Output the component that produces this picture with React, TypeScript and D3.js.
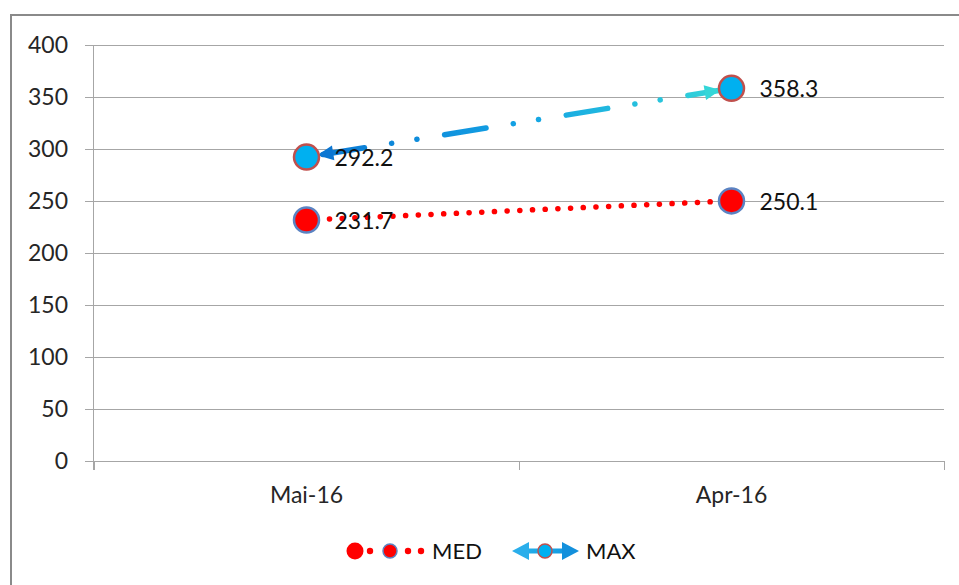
import React from "react";
import * as d3 from "d3";

const categories = ["Mai-16", "Apr-16"];
const medValues = [231.7, 250.1];
const maxValues = [292.2, 358.3];
const yTicks = [0, 50, 100, 150, 200, 250, 300, 350, 400];

const W = 959;
const H = 585;
const FONT = "Lato, 'Open Sans', sans-serif";

const x = d3.scaleBand<string>().domain(categories).range([94, 944]);
const y = d3.scaleLinear().domain([0, 400]).range([461, 45]);
const cx = (c: string) => (x(c) as number) + x.bandwidth() / 2;

function arrowHead(tip: [number, number], dir: [number, number], len: number, half: number) {
  const [ux, uy] = dir;
  const bx = tip[0] - ux * len;
  const by = tip[1] - uy * len;
  const px = -uy;
  const py = ux;
  return `M${tip[0]},${tip[1]}L${bx + px * half},${by + py * half}L${bx - px * half},${by - py * half}Z`;
}

export default function App() {
  const medPts: [number, number][] = categories.map((c, i) => [cx(c), y(medValues[i])]);
  const maxPts: [number, number][] = categories.map((c, i) => [cx(c), y(maxValues[i])]);
  const line = d3.line();

  // direction of the MAX segment
  const [a, b] = maxPts;
  const len = Math.hypot(b[0] - a[0], b[1] - a[1]);
  const u: [number, number] = [(b[0] - a[0]) / len, (b[1] - a[1]) / len];
  const tipL: [number, number] = [a[0] + u[0] * 11, a[1] + u[1] * 11];
  const tipR: [number, number] = [b[0] - u[0] * 11, b[1] - u[1] * 11];

  const legY = 551;

  return (
    <svg
      width={W}
      height={H}
      style={{ position: "fixed", left: 0, top: 0, background: "#fff" }}
      fontFamily={FONT}
    >
      <defs>
        <linearGradient id="maxGrad" gradientUnits="userSpaceOnUse" x1={a[0]} y1={a[1]} x2={b[0]} y2={b[1]}>
          <stop offset="0" stopColor="#0B76D2" />
          <stop offset="0.5" stopColor="#13A2E4" />
          <stop offset="1" stopColor="#34D6D8" />
        </linearGradient>
        <linearGradient id="legGrad" gradientUnits="userSpaceOnUse" x1={512} x2={579} y1={0} y2={0}>
          <stop offset="0" stopColor="#2BB0EC" />
          <stop offset="0.5" stopColor="#18A6E6" />
          <stop offset="1" stopColor="#1390DC" />
        </linearGradient>
      </defs>

      {/* chart area frame */}
      <rect x={11} y={15} width={1000} height={700} fill="#fff" stroke="#8a8a8a" strokeWidth={2} />

      {/* horizontal gridlines and y ticks */}
      {yTicks.map((t) => (
        <g key={t}>
          <line x1={85} x2={944} y1={Math.round(y(t)) + 0.5} y2={Math.round(y(t)) + 0.5} stroke="#a6a6a6" strokeWidth={1} />
          <text x={68} y={y(t) + 8} textAnchor="end" fontSize={23} fill="#262626">
            {t}
          </text>
        </g>
      ))}

      {/* axes */}
      <line x1={93.5} x2={93.5} y1={45} y2={470} stroke="#a6a6a6" />
      {[...categories.map((c) => x(c) as number), 944].map((px, i) => (
        <line key={i} x1={Math.round(px) + 0.5} x2={Math.round(px) + 0.5} y1={461} y2={470} stroke="#a6a6a6" />
      ))}
      {categories.map((c) => (
        <text key={c} x={cx(c)} y={503} textAnchor="middle" fontSize={23} fill="#262626">
          {c}
        </text>
      ))}

      {/* MED series: round dotted line */}
      <path
        d={line(medPts) as string}
        fill="none"
        stroke="#FF0000"
        strokeWidth={5.5}
        strokeLinecap="round"
        strokeDasharray="0.1 12.6"
        strokeDashoffset={-23}
      />

      {/* MAX series: dash-dot-dot line with arrow heads */}
      <path
        d={line(maxPts) as string}
        fill="none"
        stroke="url(#maxGrad)"
        strokeWidth={5.5}
        strokeLinecap="round"
        strokeDasharray="42 27.5 0.1 25.5 0.1 28"
        strokeDashoffset={106.5}
      />
      <path d={arrowHead(tipL, [-u[0], -u[1]], 16, 7.5)} fill="#0B76D2" />
      <path d={arrowHead(tipR, u, 16, 7.5)} fill="#34D6D8" />

      {/* markers */}
      {medPts.map((p, i) => (
        <circle key={"m" + i} cx={p[0]} cy={p[1]} r={12.5} fill="#FF0000" stroke="#5B83C2" strokeWidth={2.5} />
      ))}
      {maxPts.map((p, i) => (
        <circle key={"x" + i} cx={p[0]} cy={p[1]} r={12.5} fill="#00B0F0" stroke="#C0504D" strokeWidth={2.5} />
      ))}

      {/* data labels */}
      {medPts.map((p, i) => (
        <text key={"ml" + i} x={p[0] + 28} y={p[1] + 9} fontSize={23} fill="#111">
          {medValues[i].toFixed(1)}
        </text>
      ))}
      {maxPts.map((p, i) => (
        <text key={"xl" + i} x={p[0] + 28} y={p[1] + 9} fontSize={23} fill="#111">
          {maxValues[i].toFixed(1)}
        </text>
      ))}

      {/* legend: MED */}
      <g>
        <circle cx={355} cy={legY} r={8.5} fill="#FF0000" />
        <circle cx={370} cy={legY} r={3.2} fill="#FF0000" />
        <circle cx={390} cy={legY} r={7} fill="#FF0000" stroke="#5B83C2" strokeWidth={1.5} />
        <circle cx={408} cy={legY} r={3.2} fill="#FF0000" />
        <circle cx={421} cy={legY} r={3.2} fill="#FF0000" />
        <text x={432} y={legY + 8} fontSize={22} fill="#111">
          MED
        </text>
      </g>

      {/* legend: MAX */}
      <g>
        <line x1={522} x2={569} y1={legY} y2={legY} stroke="url(#legGrad)" strokeWidth={5} />
        <path d={arrowHead([512, legY], [-1, 0], 17, 9)} fill="#2AAEEB" />
        <path d={arrowHead([579, legY], [1, 0], 17, 9)} fill="#1390DC" />
        <circle cx={545} cy={legY} r={7} fill="#00B0F0" stroke="#C0504D" strokeWidth={1.5} />
        <text x={586} y={legY + 8} fontSize={22} fill="#111">
          MAX
        </text>
      </g>
    </svg>
  );
}
